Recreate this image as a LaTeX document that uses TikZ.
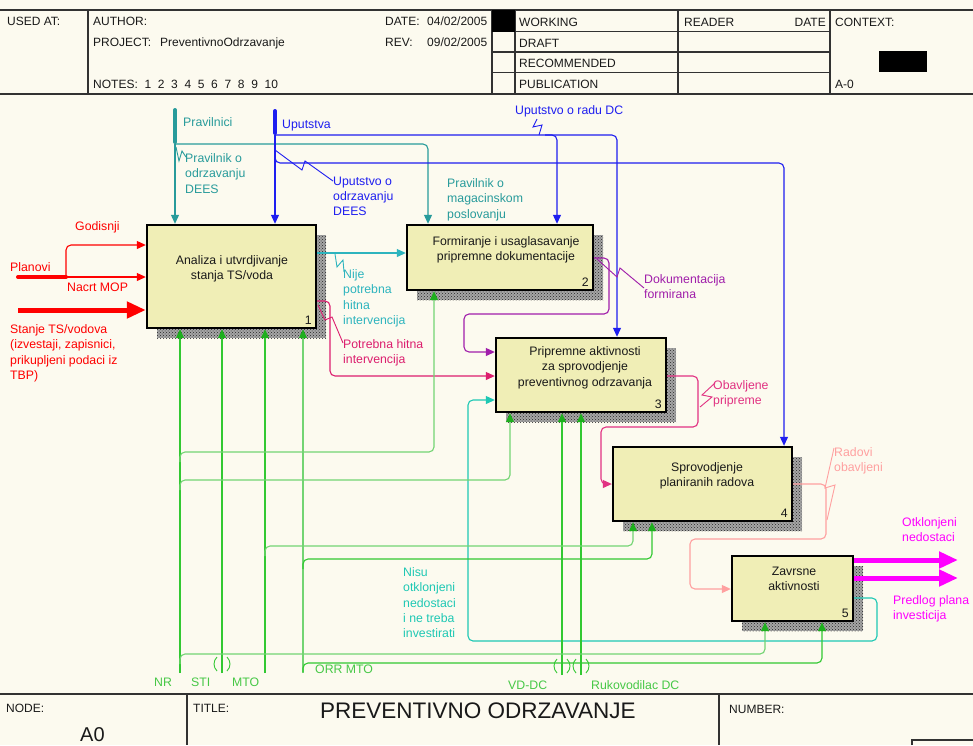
\documentclass[tikz,border=0pt]{standalone}
\usepackage{fontspec}
\setmainfont{Liberation Sans}
\usetikzlibrary{arrows.meta,patterns}

\definecolor{paper}{RGB}{252,250,239}
\definecolor{boxfill}{RGB}{240,238,182}
\definecolor{frameline}{RGB}{50,50,50}
\definecolor{txtdark}{RGB}{25,25,25}
\definecolor{cred}{RGB}{255,0,0}
\definecolor{cteal}{RGB}{40,155,155}
\definecolor{cblue}{RGB}{30,30,240}
\definecolor{ccyan}{RGB}{45,180,190}
\definecolor{ccrim}{RGB}{220,30,110}
\definecolor{cpurp}{RGB}{160,30,170}
\definecolor{cpink}{RGB}{225,50,130}
\definecolor{csalm}{RGB}{255,160,160}
\definecolor{cmag}{RGB}{255,0,255}
\definecolor{cturq}{RGB}{30,200,180}
\definecolor{cgrn}{RGB}{50,200,50}
\definecolor{cgrnl}{RGB}{115,212,115}
\definecolor{cgrnd}{RGB}{30,175,30}
\definecolor{cgrntxt}{RGB}{70,200,70}

\newcommand\lblfont{\fontsize{12.3}{15.3}\selectfont}
\newcommand\hdrfont{\fontsize{12}{14}\selectfont}

\tikzset{
  conn/.style={line width=1.1pt, rounded corners=5pt},
  tip/.style={-{Triangle[length=9pt,width=8pt]}},
  gtip/.style={-{Triangle[length=9pt,width=8pt,color=cgrnd]}},
  fatflow/.style={line width=5pt, -{Triangle[length=19pt,width=16pt]}},
  stubline/.style={line width=4pt, line cap=round},
  procbox/.style={draw=black, line width=2.4pt, fill=boxfill, inner sep=0pt},
  boxtxt/.style={font=\lblfont, align=center, inner sep=0pt, anchor=north, text=txtdark},
  numtxt/.style={font=\lblfont, inner sep=0pt, anchor=base east, text=txtdark},
  lbl/.style={font=\lblfont, align=left, inner sep=0pt, anchor=north west},
  hdr/.style={font=\hdrfont, inner sep=0pt, anchor=base west, text=txtdark},
  frame/.style={draw=frameline, line width=1.3pt},
  squig/.style={line width=0.9pt},
}

% activity box with hatched drop shadow and its number
\newcommand\procnode[6]{%
  \fill[gray!70] ({#2+10},{#3+10}) rectangle ({#4+10},{#5+10});
  \fill[pattern=crosshatch dots, pattern color=black!85] ({#2+10},{#3+10}) rectangle ({#4+10},{#5+10});
  \node[procbox, minimum width={#4-#2}, minimum height={#5-#3}] (#1) at ({(#2+#4)/2},{(#3+#5)/2}) {};
  \node[numtxt] (#1num) at ({#4-4},{#5-4}) {#6};
}
% tunnel brackets round a mechanism arrow
\newcommand\tunnel[2]{%
  \draw[cgrn, line width=0.9pt] ({#1-5},{#2-7}) .. controls ({#1-9},{#2-3}) and ({#1-9},{#2+3}) .. ({#1-5},{#2+7});
  \draw[cgrn, line width=0.9pt] ({#1+5},{#2-7}) .. controls ({#1+9},{#2-3}) and ({#1+9},{#2+3}) .. ({#1+5},{#2+7});
}

\begin{document}
\begin{tikzpicture}[x=1pt,y=-1pt]
\useasboundingbox (0,0) rectangle (973,745);
\fill[paper] (0,0) rectangle (973,745);

% ---------- header frame ----------
\draw[frame] (0,10) -- (973,10);
\draw[frame] (0,94) -- (973,94);
\draw[frame] (88,10) -- (88,94);
\draw[frame] (492,10) -- (492,94);
\draw[frame] (515,10) -- (515,94);
\draw[frame] (678,10) -- (678,94);
\draw[frame] (830,10) -- (830,94);
\draw[frame] (492,31.5) -- (830,31.5);
\draw[frame] (492,52) -- (830,52);
\draw[frame] (492,72.5) -- (830,72.5);
\fill[black] (492,10) rectangle (515,31.5);
\fill[black] (879,51) rectangle (927,72);

\node[hdr] (hused) at (7,25) {USED AT:};
\node[hdr] (hauth) at (93,25) {AUTHOR:};
\node[hdr] (hproj) at (93,46) {PROJECT:};
\node[hdr] (hprojv) at (160,46) {PreventivnoOdrzavanje};
\node[hdr] (hnotes) at (93,88) {NOTES:\ \ 1\ \ 2\ \ 3\ \ 4\ \ 5\ \ 6\ \ 7\ \ 8\ \ 9\ \ 10};
\node[hdr] (hdate) at (385,25) {DATE:};
\node[hdr] (hdatev) at (427,25) {04/02/2005};
\node[hdr] (hrev) at (385,46) {REV:};
\node[hdr] (hrevv) at (427,46) {09/02/2005};
\node[hdr] (hwork) at (519,26) {WORKING};
\node[hdr] (hdraft) at (519,47) {DRAFT};
\node[hdr] (hrec) at (519,67) {RECOMMENDED};
\node[hdr] (hpub) at (519,88) {PUBLICATION};
\node[hdr] (hread) at (684,26) {READER};
\node[hdr, anchor=base east] (hrdate) at (826,26) {DATE};
\node[hdr] (hctx) at (835,26) {CONTEXT:};
\node[hdr] (hctxv) at (835,88) {A-0};

% ---------- footer frame ----------
\draw[frame] (0,694) -- (973,694);
\draw[frame] (187,694) -- (187,745);
\draw[frame] (719,694) -- (719,745);
\draw[frame] (912,745) -- (912,740) -- (973,740);
\node[hdr] (fnode) at (6,712) {NODE:};
\node[hdr, font=\fontsize{20}{24}\selectfont] (fnodev) at (80,741) {A0};
\node[hdr] (ftitle) at (193,712) {TITLE:};
\node[hdr, font=\fontsize{22.5}{26}\selectfont] (ftitlev) at (320,718) {PREVENTIVNO ODRZAVANJE};
\node[hdr] (fnum) at (729,713) {NUMBER:};

% ---------- activity boxes ----------
\procnode{b1}{147}{225}{316}{328}{1}
\procnode{b2}{407}{225}{593}{290}{2}
\procnode{b3}{496}{338}{666}{412}{3}
\procnode{b4}{613}{447}{792}{521}{4}
\procnode{b5}{732}{556}{853}{621}{5}

\node[boxtxt] (b1txt) at (232,255.5) {Analiza i utvrdjivanje\\stanja TS/voda};
\node[boxtxt] (b2txt) at (506,236.5) {Formiranje i usaglasavanje\\pripremne dokumentacije};
\node[boxtxt] (b3txt) at (585,346.5) {Pripremne aktivnosti\\za sprovodjenje\\preventivnog odrzavanja};
\node[boxtxt] (b4txt) at (707,462.5) {Sprovodjenje\\planiranih radova};
\node[boxtxt] (b5txt) at (794,566.5) {Zavrsne\\aktivnosti};

% ---------- controls ----------
\coordinate (pvTop) at (175,110);
\coordinate (pvJ) at (175,144);
\draw[cteal, stubline] (pvTop) -- (175,142);
\draw[cteal, conn, tip] (pvJ) -- (175,0 |- b1.north);
\draw[cteal, conn, tip] (pvJ) -- (428,144) -- (428,0 |- b2.north);
\draw[cteal, squig] (176,147) -- (179,161) -- (182,151) -- (186,157);

\coordinate (upTop) at (275,111);
\coordinate (upJ) at (275,135);
\draw[cblue, stubline] (upTop) -- (275,133);
\draw[cblue, conn, tip] (upJ) -- (275,0 |- b1.north);
\draw[cblue, conn, tip] (upJ) -- (617,135) -- (617,0 |- b3.north);
\draw[cblue, conn, tip] (545,135) -- (557,135) -- (557,0 |- b2.north);
\draw[cblue, conn, tip] (275,145) -- (275,163) -- (784,163) -- (784,0 |- b4.north);
\draw[cblue, squig] (537,119) -- (533,127) -- (542,125) -- (539,135);
\draw[cblue, squig] (275,150) -- (302,170) -- (305,161) -- (333,181);

\node[lbl, text=cteal] (lpr) at (183,117.5) {Pravilnici};
\node[lbl, text=cblue] (lup) at (282,119.5) {Uputstva};
\node[lbl, text=cblue] (lupdc) at (515,105.5) {Uputstvo o radu DC};
\node[lbl, text=cteal] (lprdees) at (185,153.5) {Pravilnik o\\odrzavanju\\DEES};
\node[lbl, text=cblue] (lupdees) at (333,176.5) {Uputstvo o\\odrzavanju\\DEES};
\node[lbl, text=cteal] (lprmag) at (447,178.5) {Pravilnik o\\magacinskom\\poslovanju};

% ---------- inputs ----------
\coordinate (plS) at (18,277);
\coordinate (plJ) at (66,277);
\draw[cred, stubline] (plS) -- (plJ);
\draw[cred, conn, tip] (plJ) -- (b1.west |- plJ);
\draw[cred, conn, tip] (plJ) -- (66,245) -- (b1.west |- 0,245);
\coordinate (stS) at (18,310);
\draw[cred, fatflow] (stS) -- (b1.west |- stS);

\node[lbl, text=cred] (lgod) at (75,221.5) {Godisnji};
\node[lbl, text=cred] (lplan) at (10,262.5) {Planovi};
\node[lbl, text=cred] (lnacrt) at (67,283) {Nacrt MOP};
\node[lbl, text=cred] (lstanje) at (10,324.5) {Stanje TS/vodova\\(izvestaji, zapisnici,\\prikupljeni podaci iz\\TBP)};

% ---------- flows between activities ----------
\draw[ccyan, conn, tip] (b1.east |- 0,253) -- (b2.west |- 0,253);
\draw[ccyan, squig] (335,254) -- (337,267) -- (343,260) -- (344,272);
\node[lbl, text=ccyan] (lnije) at (343,269.5) {Nije\\potrebna\\hitna\\intervencija};

\draw[ccrim, conn, tip] (b1.east |- 0,301) -- (330,301) -- (330,376) -- (b3.west |- 0,376);
\draw[ccrim, squig] (318,305) -- (325,320) -- (332,317) -- (343,343);
\node[lbl, text=ccrim] (lpotr) at (343,339.5) {Potrebna hitna\\intervencija};

\draw[cpurp, conn, tip] (b2.east |- 0,258) -- (609,258) -- (609,314) -- (464,314) -- (464,352) -- (b3.west |- 0,352);
\draw[cpurp, squig] (597,259) -- (617,277) -- (620,268) -- (644,288);
\node[lbl, text=cpurp] (ldok) at (644,274.5) {Dokumentacija\\formirana};

\draw[cpink, conn, tip] (b3.east |- 0,376) -- (698,376) -- (698,427) -- (601,427) -- (601,484) -- (b4.west |- 0,484);
\draw[cpink, squig] (715,383) -- (702,395) -- (712,397) -- (700,407);
\node[lbl, text=cpink] (lobav) at (713,380.5) {Obavljene\\pripreme};

\draw[csalm, conn, tip] (b4.east |- 0,484) -- (826,484) -- (826,539) -- (690,539) -- (690,589) -- (b5.west |- 0,589);
\draw[csalm, squig] (834,448) -- (825,488) -- (835,485) -- (827,520);
\node[lbl, text=csalm] (lrad) at (834,447.5) {Radovi\\obavljeni};

\draw[cturq, conn, tip] (b5.east |- 0,598) -- (877,598) -- (877,641) -- (468,641) -- (468,400) -- (b3.west |- 0,400);
\node[lbl, text=cturq] (lnisu) at (403,567.5) {Nisu\\otklonjeni\\nedostaci\\i ne treba\\investirati};

% ---------- outputs ----------
\coordinate (outA) at (958,560);
\coordinate (outB) at (958,578);
\draw[cmag, fatflow] (b5.east |- outA) -- (outA);
\draw[cmag, fatflow] (b5.east |- outB) -- (outB);
\node[lbl, text=cmag] (lotk) at (902,517.5) {Otklonjeni\\nedostaci};
\node[lbl, text=cmag] (lpred) at (893,595.5) {Predlog plana\\investicija};

% ---------- mechanisms ----------
\coordinate (mNR) at (180,673);
\coordinate (mSTI) at (222,673);
\coordinate (mMTO) at (265,673);
\coordinate (mORR) at (303,673);
\coordinate (mVD) at (562,675);
\coordinate (mRK) at (581,675);

\draw[cgrn, conn, gtip] (mNR) -- (mNR |- b1.south);
\draw[cgrn, conn, gtip] (mSTI) -- (mSTI |- b1.south);
\draw[cgrn, conn, gtip] (mMTO) -- (mMTO |- b1.south);
\draw[cgrnl, conn, gtip] (mORR) -- (mORR |- b1.south);
\draw[cgrn, conn, gtip] (mVD) -- (mVD |- b3.south);
\draw[cgrn, conn, gtip] (mRK) -- (mRK |- b3.south);

\draw[cgrnl, conn, gtip] (180,462) -- (180,452) -- (434,452) -- (434,0 |- b2.south);
\draw[cgrnl, conn, gtip] (180,490) -- (180,480) -- (510,480) -- (510,0 |- b3.south);
\draw[cgrnl, conn, gtip] (265,556) -- (265,546) -- (633,546) -- (633,0 |- b4.south);
\draw[cgrn, conn, gtip] (303,569) -- (303,559) -- (652,559) -- (652,0 |- b4.south);
\draw[cgrnl, conn, gtip] (180,664) -- (180,654) -- (765,654) -- (765,0 |- b5.south);
\draw[cgrn, conn, gtip] (303,672) -- (303,663) -- (822,663) -- (822,0 |- b5.south);

\tunnel{222}{664}
\tunnel{562}{666}
\tunnel{581}{666}

\node[lbl, text=cgrntxt] (lnr) at (154,677.5) {NR};
\node[lbl, text=cgrntxt] (lsti) at (191,677.5) {STI};
\node[lbl, text=cgrntxt] (lmto) at (232,677.5) {MTO};
\node[lbl, text=cgrntxt] (lorr) at (315,664.5) {ORR MTO};
\node[lbl, text=cgrntxt] (lvd) at (508,680.5) {VD-DC};
\node[lbl, text=cgrntxt] (lrk) at (591,680.5) {Rukovodilac DC};
\end{tikzpicture}
\end{document}
